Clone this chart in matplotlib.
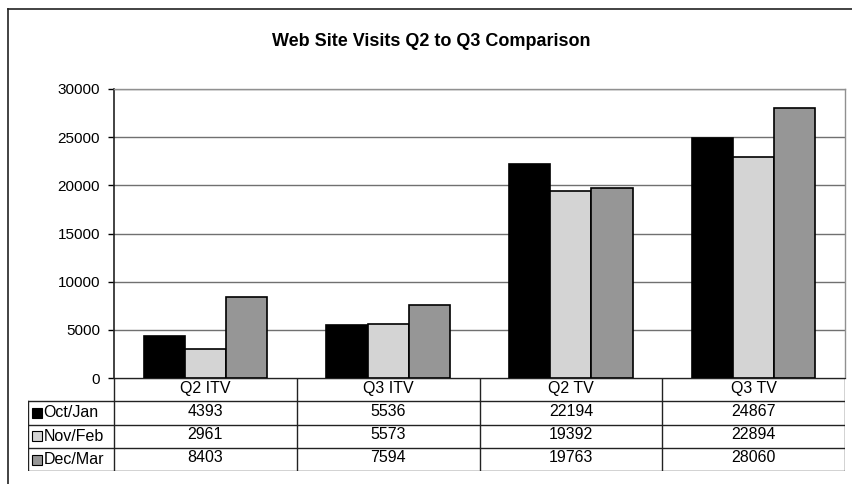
import matplotlib.pyplot as plt
from matplotlib.patches import Rectangle
from matplotlib.lines import Line2D

plt.rcParams['font.family'] = ['Liberation Sans', 'DejaVu Sans']

categories = ['Q2 ITV', 'Q3 ITV', 'Q2 TV', 'Q3 TV']
series_names = ['Oct/Jan', 'Nov/Feb', 'Dec/Mar']
oct_jan = [4393, 5536, 22194, 24867]
nov_feb = [2961, 5573, 19392, 22894]
dec_mar = [8403, 7594, 19763, 28060]
series_values = [oct_jan, nov_feb, dec_mar]
colors = ['#000000', '#d4d4d4', '#969696']
yticks = [0, 5000, 10000, 15000, 20000, 25000, 30000]

W, H = 852, 484
fig = plt.figure(figsize=(W / 100, H / 100), dpi=100)

def fx(px):
    return px / W

def fy(py):
    return 1 - py / H

# outer chart frame (top and left edges visible)
fig.add_artist(Line2D([fx(8), fx(8)], [fy(9), 0], color='#222222', lw=1.2))
fig.add_artist(Line2D([fx(8), 1], [fy(9), fy(9)], color='#222222', lw=1.2))

fig.text(fx(431), fy(42), 'Web Site Visits Q2 to Q3 Comparison',
         ha='center', va='center', fontsize=13, fontweight='bold')

# main plot area
left, right, top, bottom = 114, 845, 89, 378
ax = fig.add_axes([fx(left), fy(bottom), fx(right) - fx(left), fy(top) - fy(bottom)])
n = len(categories)
bar_w = 0.225
for i, (vals, c) in enumerate(zip(series_values, colors)):
    xs = [k + 0.5 + (i - 1) * bar_w for k in range(n)]
    ax.bar(xs, vals, width=bar_w, color=c, edgecolor='black', linewidth=1.2, zorder=3)

ax.set_xlim(0, n)
ax.set_ylim(0, 30000)
ax.set_yticks(yticks)
ax.set_yticklabels([str(v) for v in yticks], fontsize=11)
ax.set_xticks([])
ax.yaxis.grid(True, color='#707070', lw=1.0, zorder=0)
ax.tick_params(axis='y', length=4, width=1, direction='out', pad=6)
for s in ['top', 'right']:
    ax.spines[s].set_color('#909090')
    ax.spines[s].set_linewidth(1.0)
ax.spines['left'].set_color('#222222')
ax.spines['bottom'].set_color('#222222')
ax.spines['left'].set_linewidth(1.2)

# data table below the plot
tleft, tbottom = 28, 471
label_w = (left - tleft) / ((right - left) / n)
tax = fig.add_axes([fx(tleft), fy(tbottom), fx(right) - fx(tleft), fy(bottom) - fy(tbottom)])
tax.set_xlim(-label_w, n)
tax.set_ylim(4, 0)
tax.axis('off')

lc = '#222222'
lw = 1.0
# horizontal lines
tax.plot([0, n], [0, 0], color=lc, lw=lw)
for r in [1, 2, 3, 4]:
    tax.plot([-label_w, n], [r, r], color=lc, lw=lw)
# vertical lines
tax.plot([-label_w, -label_w], [1, 4], color=lc, lw=lw)
for k in range(n + 1):
    tax.plot([k, k], [0, 4], color=lc, lw=lw)

for k, cat in enumerate(categories):
    tax.text(k + 0.5, 0.45, cat, ha='center', va='center', fontsize=11.5)
key = 10 / ((right - left) / n)
for r, (name, vals, c) in enumerate(zip(series_names, series_values, colors)):
    y = r + 1
    tax.add_patch(Rectangle((-label_w + 0.022, y + 0.3), key, 0.43,
                            facecolor=c, edgecolor='black', lw=0.8))
    tax.text(-label_w + 0.085, y + 0.5, name, ha='left', va='center', fontsize=11.5)
    for k, v in enumerate(vals):
        tax.text(k + 0.5, y + 0.42, str(v), ha='center', va='center', fontsize=11.5)

fig.savefig('out.png', dpi=100)
